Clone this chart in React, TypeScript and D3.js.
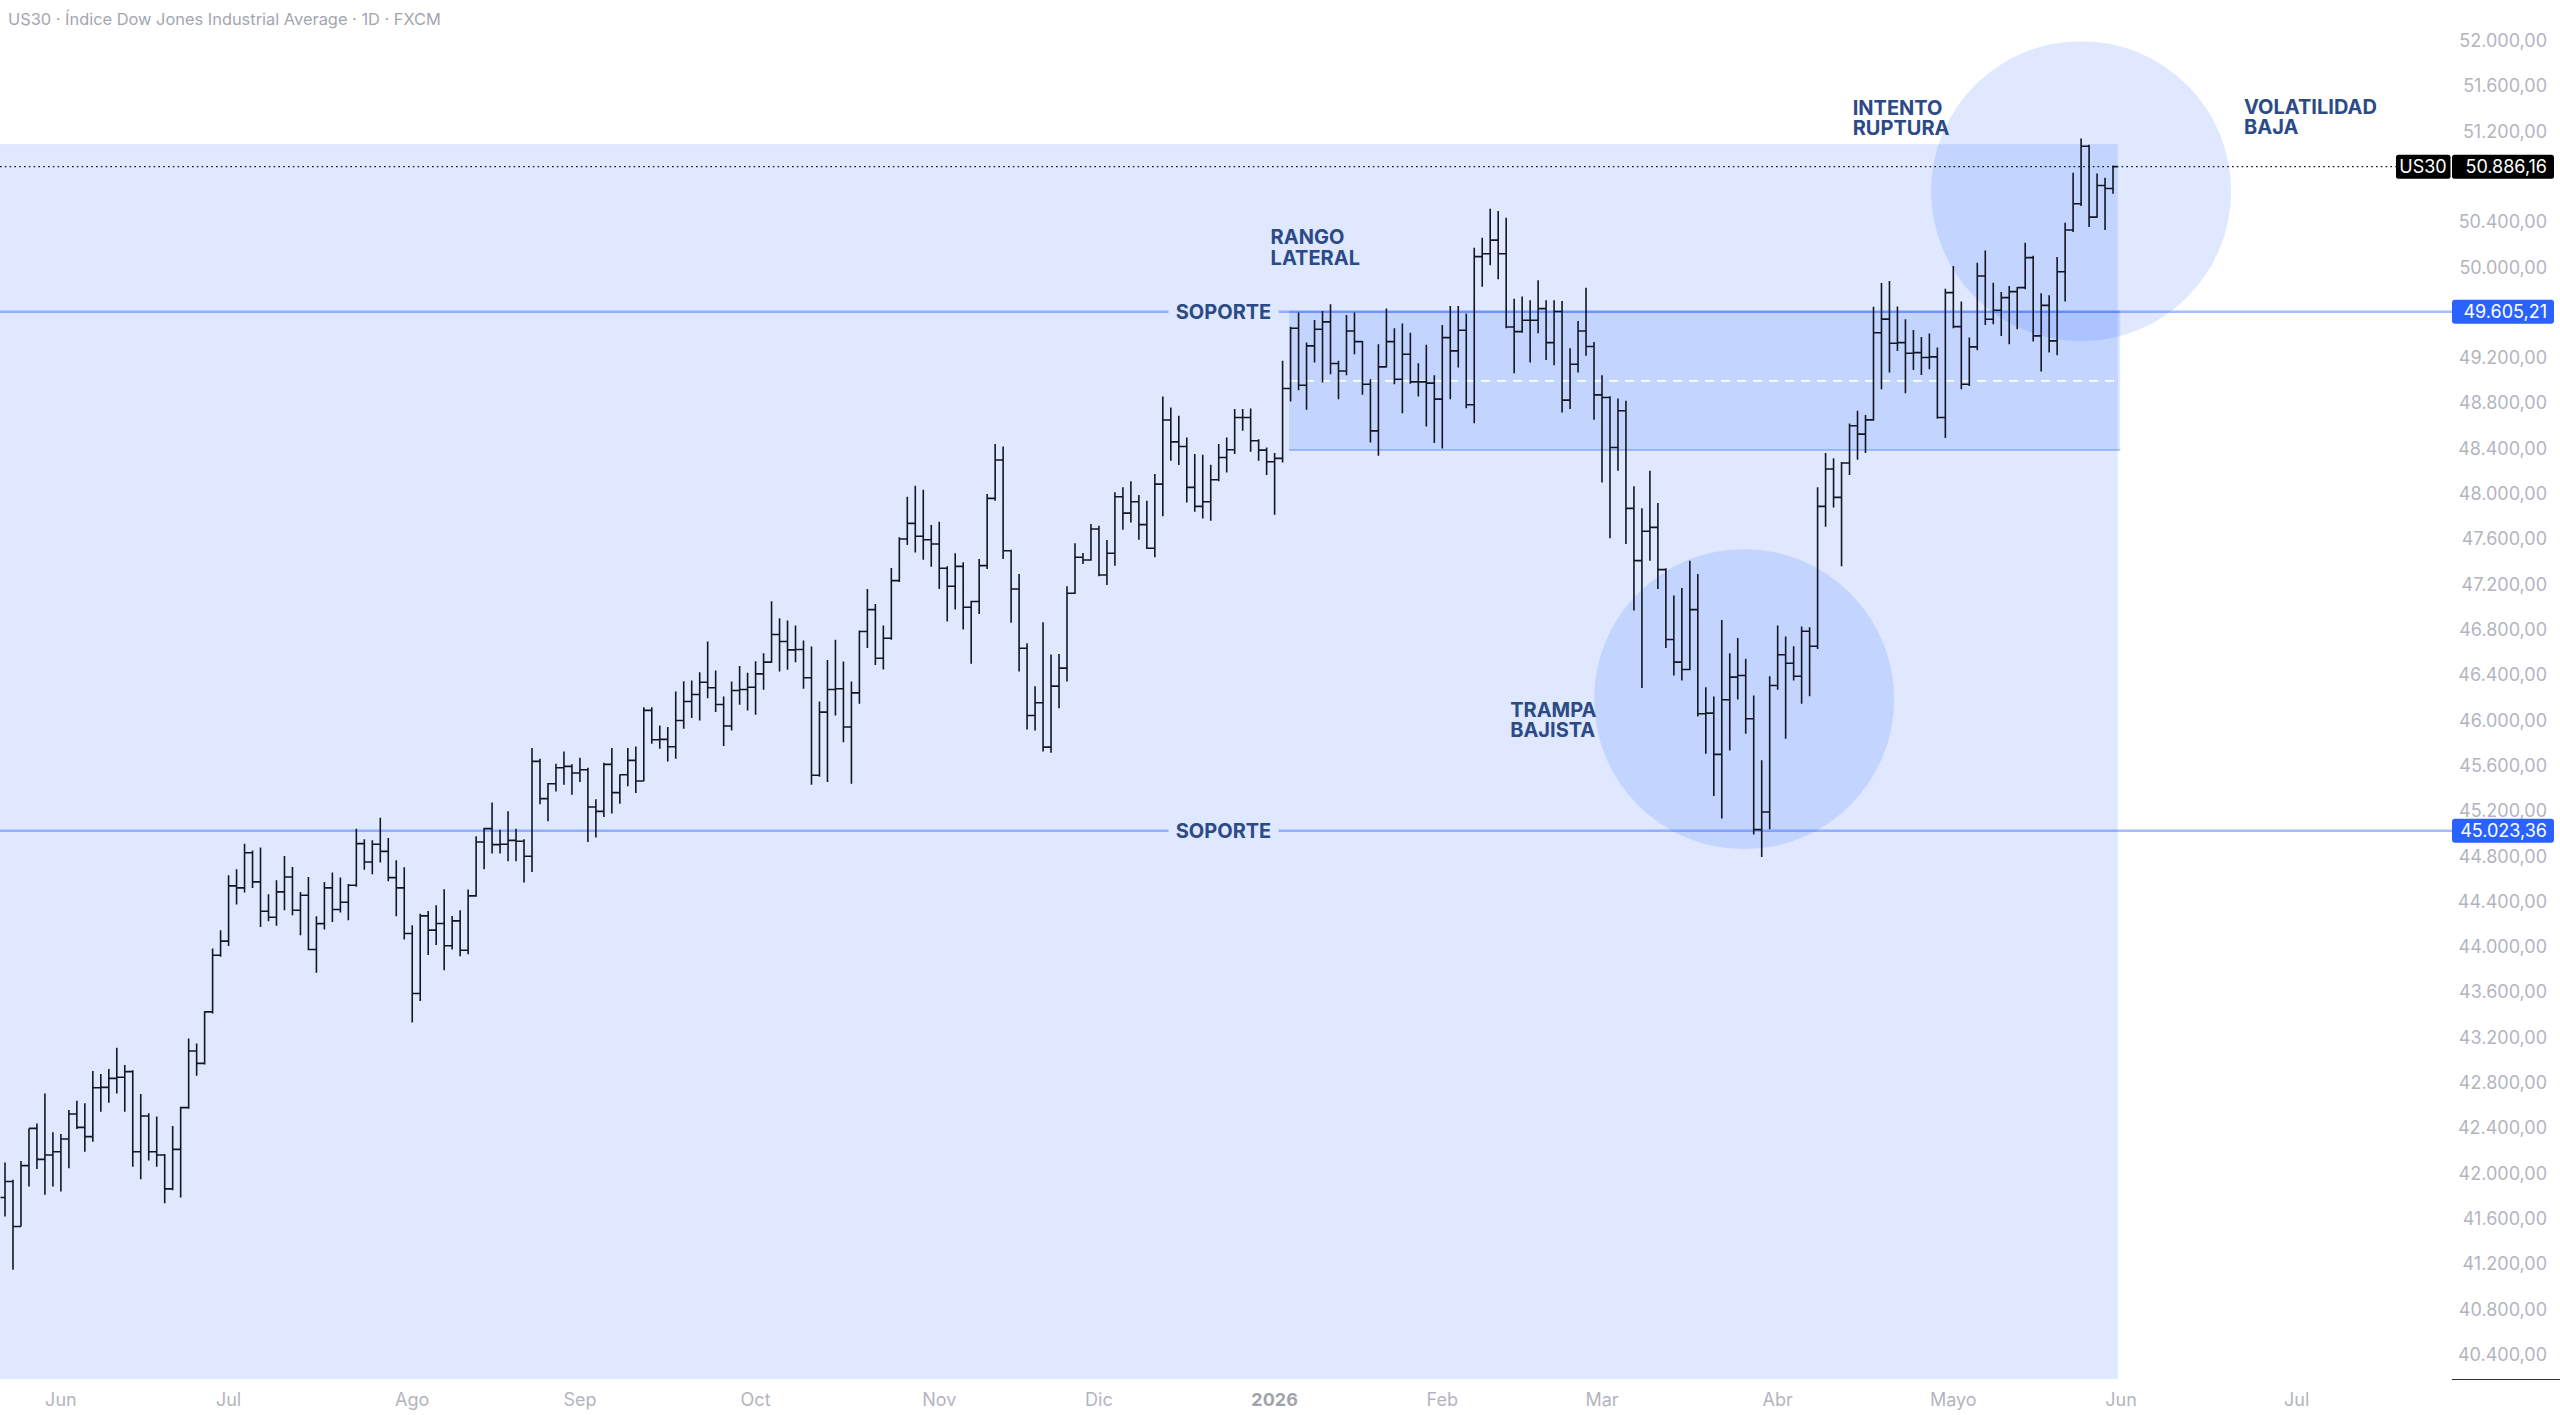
import React from 'react';
import * as d3 from 'd3';

// ---------- data ----------
const firstDay = '2025-05-22';
const holidays = ['2025-12-25', '2026-01-01'];
const monthKeys = ['2025-06', '2025-07', '2025-08', '2025-09', '2025-10', '2025-11', '2025-12', '2026-01', '2026-02', '2026-03', '2026-04', '2026-05', '2026-06', '2026-07'];
const monthLabels = ['Jun', 'Jul', 'Ago', 'Sep', 'Oct', 'Nov', 'Dic', '2026', 'Feb', 'Mar', 'Abr', 'Mayo', 'Jun', 'Jul'];
const boldLabels = ['2026'];

const opens = [
  41786, 41927, 41530, 42067, 42396, 42123, 42161, 42190, 42302, 42523,
  42405, 42323, 42755, 42758, 42838, 42847, 42897, 42190, 42505, 42190,
  42161, 41862, 42211, 42579, 43079, 42970, 43425, 43925, 44049, 44537,
  44519, 44830, 44572, 44313, 44260, 44484, 44616, 44322, 44454, 43975,
  44204, 44519, 44328, 44392, 44542, 44910, 44748, 44904, 44842, 44610,
  44519, 44116, 43587, 44272, 44146, 44205, 44008, 44228, 43969, 44449,
  44925, 45042, 44901, 44904, 44939, 44931, 44798, 45636, 45307, 45439,
  45580, 45592, 45533, 45562, 45233, 45195, 45610, 45360, 45518, 45645,
  45463, 46086, 45827, 45830, 45765, 45997, 46165, 46227, 46335, 46286,
  46138, 45948, 46262, 46271, 46291, 46409, 46512, 46756, 46694, 46620,
  46624, 46374, 45513, 46071, 46271, 46277, 45939, 46241, 46782, 46976,
  46547, 46723, 47232, 47599, 47737, 47623, 47593, 47555, 47341, 47182,
  47358, 46997, 47047, 47364, 47958, 48296, 47496, 47158, 46635, 46041,
  46153, 45762, 46300, 46459, 47120, 47438, 47414, 47687, 47282, 47473,
  47972, 47828, 47928, 47726, 47517, 48084, 48650, 48457, 48416, 48055,
  47887, 47928, 48122, 48319, 48387, 48672, 48672, 48466, 48384, 48281,
  48311, 48928, 49460, 48957, 49304, 49451, 49516, 49148, 49083, 49436,
  49342, 48966, 48554, 49119, 49342, 49010, 49230, 48986, 48986, 48975,
  48834, 49377, 49260, 49442, 48784, 50092, 50118, 50238, 50118, 49471,
  49430, 49530, 49530, 49633, 49333, 49607, 48825, 49142, 49436, 49298,
  48872, 48848, 48407, 48731, 47870, 47408, 47667, 47702, 47329, 46712,
  46512, 46447, 46976, 46056, 46062, 45698, 46180, 46380, 46394, 46012,
  45034, 45189, 46306, 46577, 46503, 46388, 46785, 46653, 47887, 48217,
  47967, 48270, 48599, 48525, 48651, 49420, 49540, 49327, 49333, 49239,
  49245, 49201, 49207, 48672, 49774, 49474, 48966, 49295, 49921, 49539,
  49618, 49730, 49783, 49818, 50083, 49392, 49662, 49348, 49959, 50327,
  50559, 51067, 50441, 50720, 50694,
];

const highs = [
  42094, 41942, 42108, 42396, 42440, 42705, 42361, 42346, 42558, 42641,
  42617, 42902, 42876, 42920, 43108, 42955, 42910, 42700, 42529, 42500,
  42170, 42417, 42588, 43190, 43146, 43431, 43984, 44146, 44631, 44683,
  44910, 44850, 44875, 44463, 44586, 44801, 44704, 44484, 44616, 44269,
  44572, 44654, 44610, 44554, 45042, 44948, 44939, 45139, 44960, 44763,
  44701, 44190, 44290, 44316, 44366, 44507, 44272, 44322, 44505, 44975,
  45051, 45272, 45033, 45195, 45042, 44948, 45754, 45659, 45445, 45615,
  45724, 45610, 45668, 45580, 45301, 45624, 45754, 45521, 45754, 45768,
  46115, 46115, 45953, 45939, 46253, 46344, 46350, 46424, 46694, 46438,
  46209, 46341, 46477, 46418, 46521, 46591, 47050, 46900, 46879, 46835,
  46703, 46650, 46165, 46532, 46709, 46518, 46341, 46791, 47158, 47026,
  46835, 47343, 47614, 47972, 48069, 48034, 47723, 47752, 47358, 47473,
  47393, 47055, 47423, 47996, 48437, 48416, 47505, 47291, 46679, 46300,
  46864, 46579, 46585, 47182, 47561, 47476, 47731, 47717, 47590, 48011,
  48055, 48108, 47987, 47937, 48172, 48857, 48760, 48687, 48496, 48349,
  48343, 48255, 48437, 48496, 48746, 48746, 48751, 48480, 48408, 48358,
  49172, 49474, 49598, 49333, 49533, 49613, 49671, 49172, 49577, 49598,
  49348, 49010, 49319, 49633, 49460, 49501, 49421, 49151, 49313, 49045,
  49489, 49657, 49657, 49589, 50171, 50259, 50515, 50494, 50435, 49721,
  49739, 49707, 49883, 49707, 49707, 49701, 49283, 49524, 49818, 49339,
  49045, 48860, 48840, 48819, 48064, 47870, 48202, 47917, 47340, 47100,
  47167, 47408, 47291, 46291, 46209, 46885, 46591, 46726, 46541, 46218,
  45645, 46388, 46835, 46738, 46653, 46826, 46820, 48055, 48358, 48311,
  48280, 48619, 48731, 48693, 49650, 49860, 49877, 49651, 49539, 49445,
  49383, 49413, 49289, 49809, 50009, 49695, 49377, 50039, 50147, 49862,
  49780, 49833, 49824, 50215, 50100, 49768, 49751, 50089, 50391, 50832,
  51135, 51080, 50826, 50788, 50897,
];

const lows = [
  41618, 41148, 41530, 41883, 42038, 41810, 41883, 41839, 42044, 42390,
  42190, 42279, 42543, 42623, 42705, 42543, 42058, 41947, 42112, 42058,
  41735, 41850, 41786, 42570, 42861, 42960, 43410, 43911, 44007, 44372,
  44478, 44519, 44175, 44225, 44184, 44322, 44278, 44102, 43969, 43769,
  44151, 44219, 44301, 44234, 44530, 44680, 44639, 44743, 44578, 44269,
  44064, 43332, 43520, 43926, 44014, 43793, 43975, 43916, 43934, 44440,
  44684, 44822, 44822, 44754, 44754, 44566, 44660, 45257, 45107, 45371,
  45430, 45342, 45454, 44925, 44963, 45145, 45175, 45263, 45416, 45357,
  45460, 45792, 45748, 45636, 45659, 45924, 46018, 45998, 46194, 46071,
  45771, 45909, 46136, 46086, 46047, 46268, 46506, 46430, 46444, 46512,
  46277, 45430, 45500, 45454, 46041, 45806, 45439, 46144, 46638, 46486,
  46447, 46710, 47220, 47546, 47481, 47417, 47355, 47158, 46870, 46976,
  46800, 46497, 46938, 47335, 47937, 47423, 46859, 46429, 45918, 45909,
  45724, 45712, 46106, 46341, 47114, 47379, 47408, 47270, 47194, 47364,
  47682, 47746, 47593, 47511, 47438, 47799, 48290, 48252, 47922, 47840,
  47781, 47761, 48108, 48187, 48349, 48554, 48369, 48290, 48164, 47814,
  48275, 48813, 48913, 48740, 49157, 48981, 49054, 48834, 49045, 49230,
  48872, 48451, 48334, 49113, 48966, 48710, 48970, 48857, 48593, 48446,
  48399, 48834, 49113, 48754, 48622, 49827, 50015, 49892, 49460, 49063,
  49420, 49157, 49416, 49180, 49133, 48716, 48746, 49069, 49216, 48651,
  48099, 47605, 48202, 47555, 46967, 46283, 47408, 47158, 46638, 46394,
  46350, 46440, 46033, 45704, 45330, 45131, 45733, 46183, 45880, 44990,
  44792, 45037, 46268, 45836, 46350, 46145, 46212, 46629, 47708, 47878,
  47358, 48164, 48299, 48358, 48643, 48922, 49069, 49260, 48887, 49092,
  49048, 49098, 48660, 48490, 49460, 48922, 48950, 49266, 49489, 49495,
  49392, 49319, 49451, 49804, 49342, 49078, 49245, 49222, 49695, 50310,
  50538, 50353, 50435, 50327, 50647,
];

const closes = [
  41927, 41530, 42067, 42396, 42123, 42161, 42190, 42302, 42523, 42405,
  42323, 42755, 42758, 42838, 42847, 42897, 42190, 42505, 42190, 42161,
  41862, 42211, 42579, 43079, 42970, 43425, 43925, 44049, 44537, 44519,
  44830, 44572, 44313, 44260, 44484, 44616, 44322, 44454, 43975, 44204,
  44519, 44328, 44392, 44542, 44910, 44748, 44904, 44842, 44610, 44519,
  44116, 43587, 44272, 44146, 44205, 44008, 44228, 43969, 44449, 44925,
  45042, 44901, 44904, 44939, 44931, 44798, 45636, 45307, 45439, 45580,
  45592, 45533, 45562, 45233, 45195, 45610, 45360, 45518, 45645, 45463,
  46086, 45827, 45830, 45765, 45997, 46165, 46227, 46335, 46286, 46138,
  45948, 46262, 46271, 46291, 46409, 46512, 46756, 46694, 46620, 46624,
  46374, 45513, 46071, 46271, 46277, 45939, 46241, 46782, 46976, 46547,
  46723, 47232, 47599, 47737, 47623, 47593, 47555, 47341, 47182, 47358,
  46997, 47047, 47364, 47958, 48296, 47496, 47158, 46635, 46041, 46153,
  45762, 46300, 46459, 47120, 47438, 47414, 47687, 47282, 47473, 47972,
  47828, 47928, 47726, 47517, 48084, 48650, 48457, 48416, 48055, 47887,
  47928, 48122, 48319, 48387, 48672, 48672, 48466, 48384, 48281, 48311,
  48928, 49460, 48957, 49304, 49451, 49516, 49148, 49083, 49436, 49342,
  48966, 48554, 49119, 49342, 49010, 49230, 48986, 48986, 48975, 48834,
  49377, 49260, 49442, 48784, 50092, 50118, 50238, 50118, 49471, 49430,
  49530, 49530, 49633, 49333, 49607, 48825, 49142, 49436, 49298, 48872,
  48848, 48407, 48731, 47870, 47408, 47667, 47702, 47329, 46712, 46512,
  46447, 46976, 46056, 46062, 45698, 46180, 46380, 46394, 46012, 45034,
  45189, 46306, 46577, 46503, 46388, 46785, 46653, 47887, 48217, 47967,
  48270, 48599, 48525, 48651, 49420, 49540, 49327, 49333, 49239, 49245,
  49201, 49207, 48672, 49774, 49474, 48966, 49295, 49921, 49539, 49618,
  49730, 49783, 49818, 50083, 49392, 49662, 49348, 49959, 50327, 50559,
  51067, 50441, 50720, 50694, 50886.16,
];

const priceTicks = d3.range(40400, 52000.1, 400);
const supportLevels = [49605.21, 45023.36];
const lastPrice = 50886.16;
const symbol = 'US30';
const title = 'US30 · Índice Dow Jones Industrial Average · 1D · FXCM';

// drawings, in bar-index / price coordinates
const backgroundZone = { from: -10, to: 264.6, top: 51085, bottom: 38000 };
const rangeZone = { from: 160.8, to: 264.9, top: 49605.21, bottom: 48385 };
const circleCenters = [
  { i: 217.8, p: 46185 },
  { i: 260.0, p: 50670 },
];
const notes = [
  { lines: ['RANGO', 'LATERAL'], i: 158.5, p: 50200 },
  { lines: ['TRAMPA', 'BAJISTA'], i: 188.5, p: 46030 },
  { lines: ['INTENTO', 'RUPTURA'], i: 231.4, p: 51345 },
  { lines: ['VOLATILIDAD', 'BAJA'], i: 280.4, p: 51355 },
];
const supportLabel = { text: 'SOPORTE', i: 152.6 };

// ---------- layout ----------
const W = 2560;
const H = 1415;
const PANE_R = 2452;
const PANE_B = 1379;
const BAR_STEP = 7.985;
const FONT = "Inter, 'Noto Sans', 'DejaVu Sans', sans-serif";
const ZONE_FILL = 'rgba(41, 98, 255, 0.15)';
const LINE_BLUE = 'rgba(41, 98, 255, 0.42)';
const NOTE_COLOR = '#2c4a86';
const BAR_COLOR = '#131722';
const NOTE_SIZE = 20;
const NOTE_LEAD = 20.5;

const fmtDay = d3.timeFormat('%Y-%m-%d');
const fmtMonth = d3.timeFormat('%Y-%m');
const esLocale = d3.formatLocale({ decimal: ',', thousands: '.', grouping: [3], currency: ['', '€'] });
const fmtPrice = esLocale.format(',.2f');

function tradingDays(): Date[] {
  const start = d3.timeParse('%Y-%m-%d')(firstDay) as Date;
  const end = d3.timeDay.offset(start, 460);
  return d3.timeDay
    .range(start, end)
    .filter((d) => d.getDay() !== 0 && d.getDay() !== 6 && !holidays.includes(fmtDay(d)));
}

export default function App() {
  const days = tradingDays();
  const x = d3.scaleLinear().domain([0, 287]).range([5, 5 + 287 * BAR_STEP]);
  const y = d3.scaleLinear().domain([40400, 52000]).range([1354.5, 40.5]);

  const monthTicks = monthKeys.map((k, j) => {
    const idx = days.findIndex((d) => fmtMonth(d) === k);
    return { label: monthLabels[j], idx };
  });

  const tick = 4.5;
  const barPath = closes
    .map((c, i) => {
      const xi = x(i);
      return `M${xi},${y(highs[i])}V${y(lows[i])}M${xi - tick},${y(opens[i])}H${xi}M${xi},${y(c)}H${xi + tick}`;
    })
    .join('');

  const labelH = 24;
  const supX = x(supportLabel.i);
  const supGap = 55;
  const labelPrices = [...supportLevels, lastPrice];
  const visibleTicks = priceTicks.filter((t) => labelPrices.every((p) => Math.abs(y(t) - y(p)) > 12));

  return (
    <div style={{ position: 'absolute', left: 0, top: 0, width: W, height: H, background: '#fff' }}>
      <svg width={W} height={H} viewBox={`0 0 ${W} ${H}`} style={{ display: 'block', fontFamily: FONT }}>
        <defs>
          <clipPath id="pane">
            <rect x={0} y={0} width={PANE_R} height={PANE_B} />
          </clipPath>
        </defs>
        <rect x={0} y={0} width={W} height={H} fill="#ffffff" />

        <g clipPath="url(#pane)">
          {/* background zone */}
          <rect
            x={x(backgroundZone.from)}
            y={y(backgroundZone.top)}
            width={x(backgroundZone.to) - x(backgroundZone.from)}
            height={y(backgroundZone.bottom) - y(backgroundZone.top)}
            fill={ZONE_FILL}
          />
          {/* lateral range */}
          <rect
            x={x(rangeZone.from)}
            y={y(rangeZone.top)}
            width={x(rangeZone.to) - x(rangeZone.from)}
            height={y(rangeZone.bottom) - y(rangeZone.top)}
            fill={ZONE_FILL}
          />
          <line
            x1={x(rangeZone.from)}
            x2={x(rangeZone.to)}
            y1={y(rangeZone.bottom)}
            y2={y(rangeZone.bottom)}
            stroke="rgba(41, 98, 255, 0.32)"
            strokeWidth={2}
          />
          <line
            x1={x(rangeZone.from)}
            x2={x(rangeZone.to)}
            y1={y(rangeZone.top)}
            y2={y(rangeZone.top)}
            stroke="rgba(41, 98, 255, 0.3)"
            strokeWidth={2}
          />
          <line
            x1={x(rangeZone.from)}
            x2={x(rangeZone.to)}
            y1={y((rangeZone.top + rangeZone.bottom) / 2)}
            y2={y((rangeZone.top + rangeZone.bottom) / 2)}
            stroke="rgba(255,255,255,0.95)"
            strokeWidth={1.6}
            strokeDasharray="9 7"
          />
          {/* circles */}
          {circleCenters.map((c, k) => (
            <circle key={k} cx={x(c.i)} cy={y(c.p)} r={150} fill={ZONE_FILL} />
          ))}

          {/* support lines with label gap */}
          {supportLevels.map((s, k) => (
            <g key={k}>
              <line x1={0} x2={supX - supGap} y1={y(s)} y2={y(s)} stroke={LINE_BLUE} strokeWidth={2.6} />
              <line x1={supX + supGap} x2={PANE_R} y1={y(s)} y2={y(s)} stroke={LINE_BLUE} strokeWidth={2.6} />
              <text
                x={supX}
                y={y(s)}
                dy="0.36em"
                textAnchor="middle"
                fontSize={NOTE_SIZE}
                fontWeight={700}
                fill={NOTE_COLOR}
              >
                {supportLabel.text}
              </text>
            </g>
          ))}

          {/* last price dotted line */}
          <line
            x1={0}
            x2={2396}
            y1={y(lastPrice)}
            y2={y(lastPrice)}
            stroke={BAR_COLOR}
            strokeWidth={1.4}
            strokeDasharray="1.6 3.2"
          />

          {/* OHLC bars */}
          <path d={barPath} fill="none" stroke={BAR_COLOR} strokeWidth={1.6} />

          {/* notes */}
          {notes.map((n, k) =>
            n.lines.map((l, j) => (
              <text
                key={`${k}-${j}`}
                x={x(n.i)}
                y={y(n.p) + j * NOTE_LEAD}
                fontSize={NOTE_SIZE}
                fontWeight={700}
                fill={NOTE_COLOR}
              >
                {l}
              </text>
            ))
          )}
        </g>

        {/* title */}
        <text x={8} y={19} dy="0.35em" fontSize={16.4} fill="#a3a6af">
          {title}
        </text>

        {/* price axis */}
        {visibleTicks.map((t) => (
          <text key={t} x={2547} y={y(t)} dy="0.36em" textAnchor="end" fontSize={18} fill="#b2b5be">
            {fmtPrice(t)}
          </text>
        ))}
        {supportLevels.map((s, k) => (
          <g key={k}>
            <rect x={2452} y={y(s) - labelH / 2} width={102} height={labelH} rx={3} fill="#2962ff" />
            <text x={2547} y={y(s)} dy="0.36em" textAnchor="end" fontSize={18} fill="#ffffff">
              {fmtPrice(s)}
            </text>
          </g>
        ))}
        <rect x={2396} y={y(lastPrice) - labelH / 2} width={54.5} height={labelH} rx={2.5} fill="#000000" />
        <text x={2423} y={y(lastPrice)} dy="0.36em" textAnchor="middle" fontSize={18} fill="#ffffff">
          {symbol}
        </text>
        <rect x={2452} y={y(lastPrice) - labelH / 2} width={102} height={labelH} rx={2.5} fill="#000000" />
        <text x={2547} y={y(lastPrice)} dy="0.36em" textAnchor="end" fontSize={18} fill="#ffffff">
          {fmtPrice(lastPrice)}
        </text>
        <line x1={2452} x2={W} y1={PANE_B + 0.5} y2={PANE_B + 0.5} stroke="#2a2e39" strokeWidth={1.2} />

        {/* time axis */}
        {monthTicks.map((m, k) => (
          <text
            key={k}
            x={x(m.idx)}
            y={1400}
            dy="0.36em"
            textAnchor="middle"
            fontSize={18}
            fontWeight={boldLabels.includes(m.label) ? 700 : 400}
            fill={boldLabels.includes(m.label) ? '#a0a3ab' : '#b2b5be'}
          >
            {m.label}
          </text>
        ))}
      </svg>
    </div>
  );
}
